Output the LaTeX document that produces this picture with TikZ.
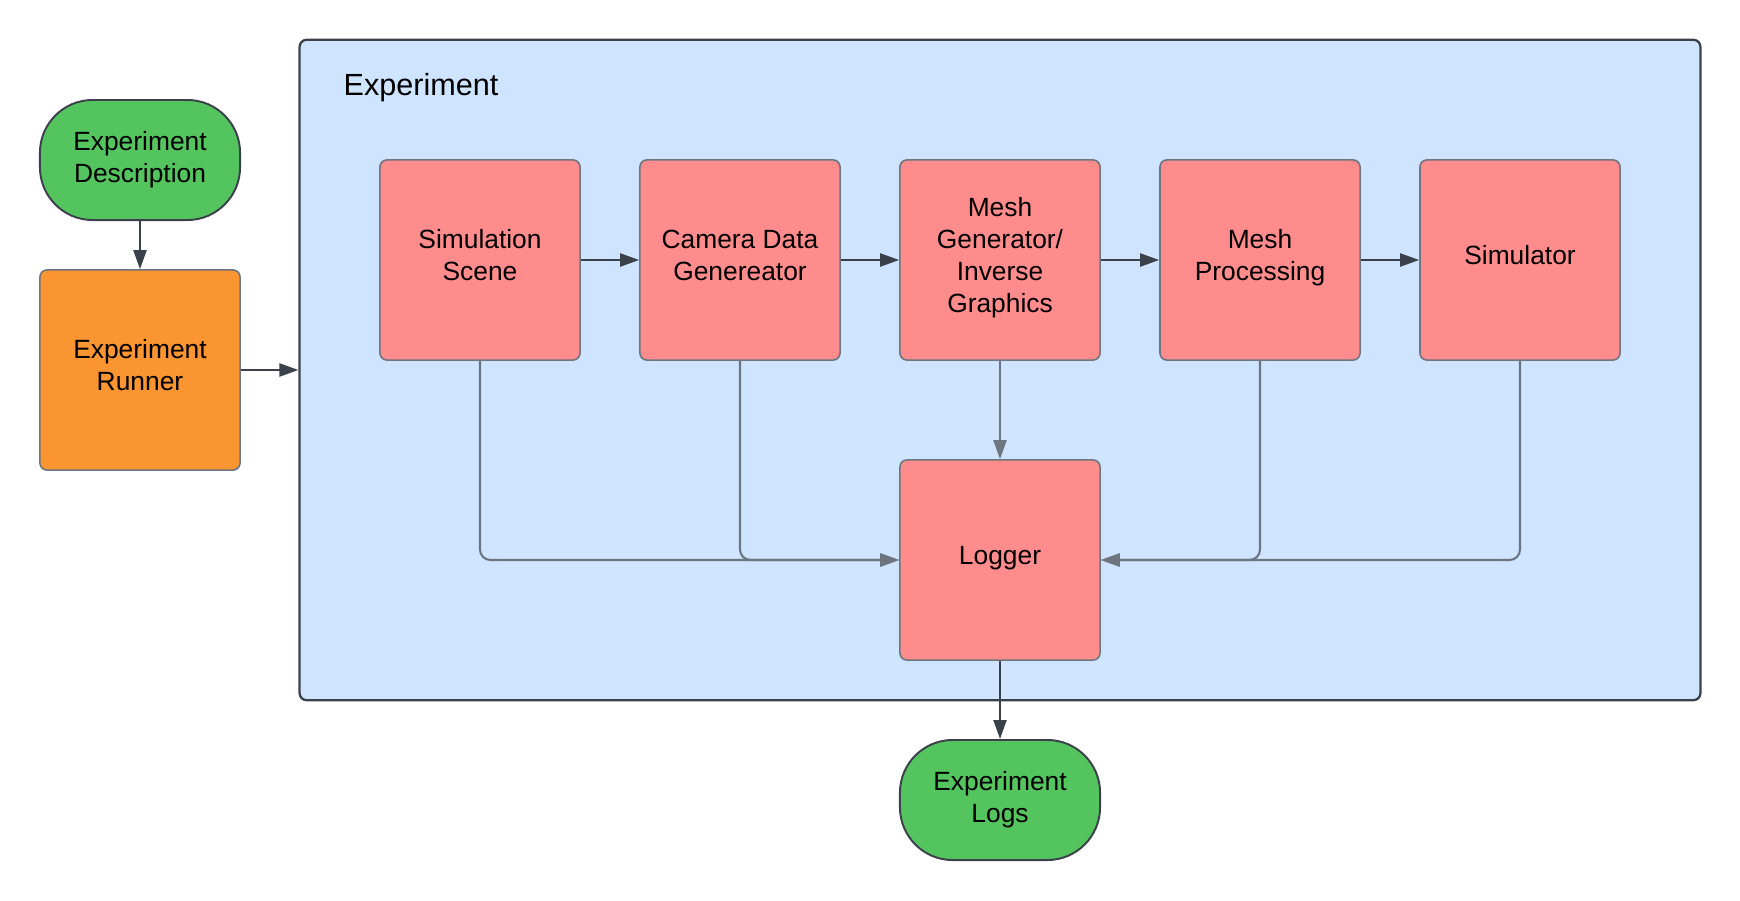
\documentclass[tikz,border=0pt]{standalone}
\usepackage{fontspec}
\setmainfont{Liberation Sans}
\usetikzlibrary{arrows.meta}

\definecolor{startgreen}{HTML}{54C45E}
\definecolor{runorange}{HTML}{FA9532}
\definecolor{stepred}{HTML}{FF8C8C}
\definecolor{expblue}{HTML}{CFE4FF}
\definecolor{edgedark}{HTML}{3A414A}
\definecolor{edgegray}{HTML}{6C7580}

\begin{document}
\begin{tikzpicture}[x=0.01cm, y=-0.01cm,
        main/.style = {draw=edgegray, line width=0.45pt, rounded corners=2pt, fill=stepred, minimum width=2cm, minimum height=2cm, align=center, inner sep=0pt, text depth=2.8pt},
        term/.style = {draw=edgedark, line width=0.55pt, rounded corners=15pt, fill=startgreen, minimum width=2cm, minimum height=1.2cm, align=center, inner sep=0pt},
        dark/.style = {draw=edgedark, line width=0.6pt, -{Triangle[length=0.19cm, width=0.13cm]}},
        light/.style = {draw=edgegray, line width=0.6pt, rounded corners=3pt, -{Triangle[length=0.19cm, width=0.13cm]}},
        every node/.style = {font=\fontsize{7.5pt}{9.1pt}\selectfont}]
        \useasboundingbox (0, 0) rectangle (1740, 900);

        \node[draw=edgedark, line width=0.65pt, rounded corners=2pt, fill=expblue, minimum width=14cm, minimum height=6.6cm] at (1000, 370) (E) {};
        \node[anchor=base west, inner sep=0pt, font=\fontsize{8.7pt}{10pt}\selectfont] at (343, 95) (T) {Experiment};

        \node[term] at (140, 160) (0) {Experiment\\Description};
        \node[main, fill=runorange] at (140, 370) (R) {Experiment\\Runner};

        \node[main] at (480, 260) (1) {Simulation\\Scene};
        \node[main] at (740, 260) (2) {Camera Data\\Genereator};
        \node[main] at (1000, 260) (3) {Mesh\\Generator/\\Inverse\\Graphics};
        \node[main] at (1260, 260) (4) {Mesh\\Processing};
        \node[main] at (1520, 260) (5) {Simulator};

        \node[main] at (1000, 560) (L) {Logger};
        \node[term] at (1000, 800) (O) {Experiment\\Logs};

        \draw[dark] (0) -- (R);
        \draw[dark] (R) -- (E.west);

        \draw[dark] (1) -- (2);
        \draw[dark] (2) -- (3);
        \draw[dark] (3) -- (4);
        \draw[dark] (4) -- (5);

        \draw[light] (1.south) |- (L.west);
        \draw[light] (2.south) |- (L.west);
        \draw[light] (3) -- (L);
        \draw[light] (4.south) |- (L.east);
        \draw[light] (5.south) |- (L.east);

        \draw[dark] (L) -- (O);
    \end{tikzpicture}
\end{document}
